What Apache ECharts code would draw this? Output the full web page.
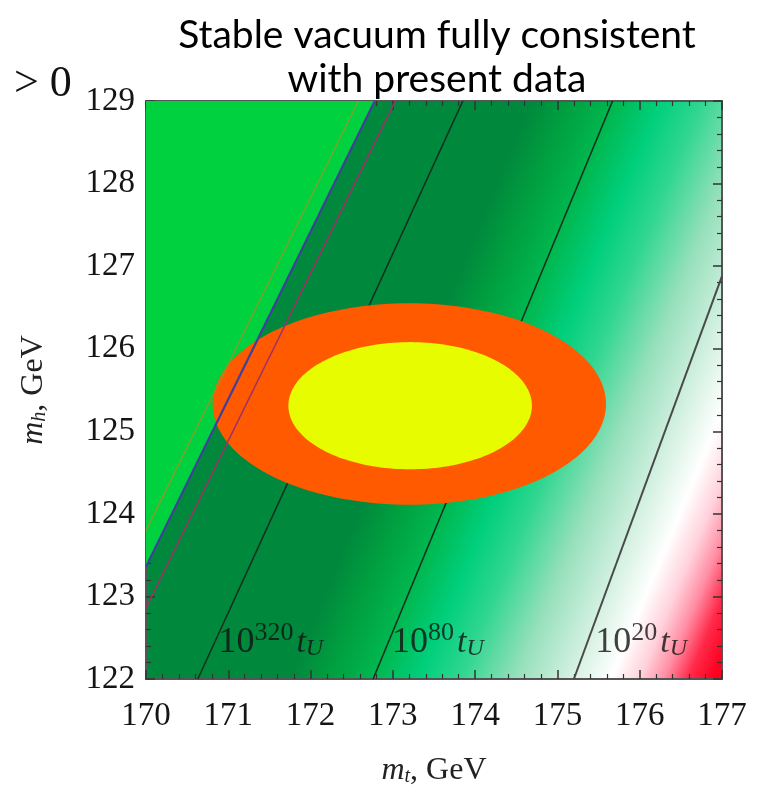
<!DOCTYPE html>
<html><head><meta charset="utf-8">
<script src="https://cdn.jsdelivr.net/npm/echarts@6/dist/echarts.min.js"></script>
<style>html,body{margin:0;padding:0;background:#fff}#c{width:759px;height:796px}</style>
</head><body><div id="c"></div>
<script>
// ---- data ----
const mtRange = [170, 177];           // x axis, m_t in GeV
const mhRange = [122, 129];           // y axis, m_h in GeV
const tickStep = 1;
// stability boundary lines [m_t, m_h]
const oliveLine  = [[170, 123.80], [172.58, 129]];
const blueLine   = [[170, 123.36], [172.78, 129]];
const purpleLine = [[170, 122.86], [173.03, 129]];
// lifetime contours
const contour320 = [[170.63, 122], [173.85, 129]];
const contour80  = [[172.76, 122], [175.67, 129]];
const contour20  = [[175.20, 122], [177.00, 126.88]];
// stable region corner (top-left of plot)
const stableCorner = [170, 129];
// experimental ellipses: [centre m_t, centre m_h, half-width m_t, half-height m_h]
const ellipseOuter = [173.20, 125.33, 2.39, 1.22];
const ellipseInner = [173.21, 125.31, 1.48, 0.77];
// contour labels: [m_t, m_h] anchor and exponent
const labelPos = [[170.88, 122.47], [172.99, 122.47], [175.46, 122.47]];
const labelExp = ['320', '80', '20'];

const chart = echarts.init(document.getElementById('c'));
const serif = 'Liberation Serif';

const bg = new echarts.graphic.LinearGradient(0, 0, 1.207, 0.503, [
  {offset: 0.00, color: '#00893d'},
  {offset: 0.47, color: '#00883c'},
  {offset: 0.52, color: '#00a040'},
  {offset: 0.575, color: '#00b850'},
  {offset: 0.63, color: '#00cf7c'},
  {offset: 0.68, color: '#30d690'},
  {offset: 0.75, color: '#98e0bc'},
  {offset: 0.82, color: '#d8f2e4'},
  {offset: 0.865, color: '#ffffff'},
  {offset: 0.90, color: '#ffd2dc'},
  {offset: 0.93, color: '#ff8ea4'},
  {offset: 0.96, color: '#ff2a4a'},
  {offset: 0.99, color: '#ff0020'},
  {offset: 1.00, color: '#ff0020'}
]);

function ellipseSeries(d, color, z) {
  return {
    type: 'custom', z: z, silent: true,
    dimensions: ['mt', 'mh', 'rx', 'ry'],
    encode: {x: 0, y: 1},
    data: [d],
    renderItem: function (params, api) {
      const c = api.coord([api.value(0), api.value(1)]);
      const e = api.coord([api.value(0) + api.value(2), api.value(1) + api.value(3)]);
      const rx = Math.abs(e[0] - c[0]), ry = Math.abs(e[1] - c[1]);
      const pts = [];
      for (let i = 0; i < 180; i++) {
        const a = i / 180 * 2 * Math.PI;
        pts.push([c[0] + rx * Math.cos(a), c[1] + ry * Math.sin(a)]);
      }
      return {type: 'polygon', shape: {points: pts}, style: {fill: color}};
    }
  };
}

function lineSeries(d, color, width, z) {
  return {
    type: 'line', data: d, symbol: 'none', silent: true, z: z,
    lineStyle: {color: color, width: width}
  };
}

const tickCommon = {
  axisLine: {show: true, onZero: false, lineStyle: {color: '#555', width: 2}},
  axisTick: {show: true, inside: true, length: 9, lineStyle: {color: '#333', width: 1.5}},
  minorTick: {show: true, splitNumber: 5, length: 5, lineStyle: {color: '#333', width: 1.2}},
  splitLine: {show: false}
};

const labelRich = {
  n: {fontFamily: serif, fontSize: 36, color: '#111', lineHeight: 40, verticalAlign: 'bottom'},
  s: {fontFamily: serif, fontSize: 26, color: '#111', lineHeight: 26, verticalAlign: 'top', padding: [0, 3, 0, 0]},
  t: {fontFamily: serif, fontSize: 34, fontStyle: 'italic', color: '#111', lineHeight: 40, verticalAlign: 'bottom'},
  u: {fontFamily: serif, fontSize: 24, fontStyle: 'italic', color: '#111', lineHeight: 20, verticalAlign: 'bottom'}
};

const nameRich = {
  m: {fontFamily: serif, fontSize: 32, fontStyle: 'italic', color: '#222'},
  s: {fontFamily: serif, fontSize: 20, fontStyle: 'italic', color: '#222', verticalAlign: 'bottom', lineHeight: 24},
  r: {fontFamily: serif, fontSize: 32, color: '#222'}
};

const option = {
  animation: false,
  title: {
    text: 'Stable vacuum fully consistent\nwith present data',
    left: 432, top: 8, textAlign: 'center',
    textStyle: {fontFamily: 'Lato', fontSize: 39, fontWeight: 'normal', color: '#000', lineHeight: 44}
  },
  graphic: [{
    type: 'text', left: 14, top: 62,
    style: {text: '> 0', fontFamily: serif, fontSize: 44, fill: '#111'}
  }],
  grid: {left: 146, right: 37, top: 101, bottom: 117, show: true, backgroundColor: bg, borderWidth: 0},
  xAxis: [
    Object.assign({}, tickCommon, {
      type: 'value', position: 'bottom', min: mtRange[0], max: mtRange[1], interval: tickStep,
      axisLabel: {fontFamily: serif, fontSize: 33, color: '#151515', margin: 21},
      name: '{m|m}{s|t}{r|, GeV}', nameLocation: 'middle', nameGap: 76,
      nameTextStyle: {rich: nameRich}
    }),
    Object.assign({}, tickCommon, {
      type: 'value', position: 'top', min: mtRange[0], max: mtRange[1], interval: tickStep,
      axisLabel: {show: false}
    })
  ],
  yAxis: [
    Object.assign({}, tickCommon, {
      type: 'value', position: 'left', min: mhRange[0], max: mhRange[1], interval: tickStep,
      axisLabel: {fontFamily: serif, fontSize: 33, color: '#151515', margin: 11},
      name: '{m|m}{s|h}{r|, GeV}', nameLocation: 'middle', nameGap: 96,
      nameTextStyle: {rich: nameRich}
    }),
    Object.assign({}, tickCommon, {
      type: 'value', position: 'right', min: mhRange[0], max: mhRange[1], interval: tickStep,
      axisLabel: {show: false}
    })
  ],
  series: [
    {
      type: 'custom', z: 2, silent: true,
      encode: {x: 0, y: 1},
      data: [[stableCorner[0], stableCorner[1]]],
      renderItem: function (params, api) {
        const p0 = api.coord(stableCorner);
        const p1 = api.coord(blueLine[1]);
        const p2 = api.coord(blueLine[0]);
        return {type: 'polygon', shape: {points: [p0, p1, p2]}, style: {fill: '#00d13f'}};
      }
    },
    lineSeries(contour320, '#13301f', 1.6, 3),
    lineSeries(contour80, '#13301f', 1.6, 3),
    lineSeries(contour20, '#4a4a4a', 2, 3),
    ellipseSeries(ellipseOuter, '#ff5a00', 4),
    ellipseSeries(ellipseInner, '#e8fc00', 5),
    lineSeries(oliveLine, '#8f9a2a', 1.2, 6),
    lineSeries(blueLine, '#40409a', 2.2, 6),
    lineSeries(purpleLine, '#a0306a', 1.6, 6),
    {
      type: 'scatter', z: 7, silent: true, symbolSize: 0,
      data: labelPos.map((p, i) => ({value: p, exp: labelExp[i]})),
      label: {
        show: true, position: [0, 0], align: 'left', verticalAlign: 'middle',
        formatter: function (p) { return '{n|10}{s|' + p.data.exp + '}{t|t}{u|U}'; },
        rich: labelRich
      }
    }
  ]
};
chart.setOption(option);
</script>
</body></html>
